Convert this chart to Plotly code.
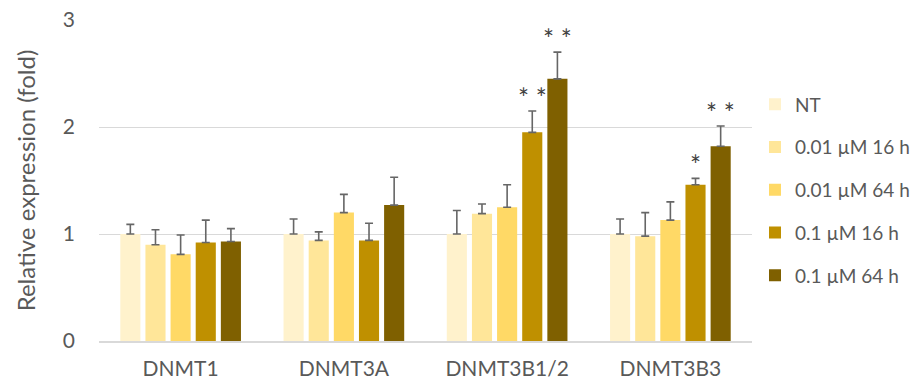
import plotly.graph_objects as go

# Genes on the x axis and treatment groups
genes = ["DNMT1", "DNMT3A", "DNMT3B1/2", "DNMT3B3"]
groups = ["NT", "0.01 µM 16 h", "0.01 µM 64 h", "0.1 µM 16 h", "0.1 µM 64 h"]
colors = ["#FFF2CC", "#FFE699", "#FFD966", "#BF9000", "#7F6000"]

# Mean relative expression (fold) per group, in gene order
nt = [1.00, 1.00, 1.00, 1.00]
low_16h = [0.90, 0.94, 1.19, 0.98]
low_64h = [0.81, 1.20, 1.25, 1.13]
high_16h = [0.92, 0.94, 1.95, 1.46]
high_64h = [0.93, 1.27, 2.45, 1.82]

# Upper error (SD) per group
nt_err = [0.09, 0.14, 0.22, 0.14]
low_16h_err = [0.14, 0.08, 0.09, 0.22]
low_64h_err = [0.18, 0.17, 0.21, 0.17]
high_16h_err = [0.21, 0.16, 0.20, 0.06]
high_64h_err = [0.12, 0.26, 0.25, 0.19]

# Significance marks: (gene, group index, label)
marks = [
    ("DNMT3B1/2", 3, "* *"),
    ("DNMT3B1/2", 4, "* *"),
    ("DNMT3B3", 3, "*"),
    ("DNMT3B3", 4, "* *"),
]

means = [nt, low_16h, low_64h, high_16h, high_64h]
errs = [nt_err, low_16h_err, low_64h_err, high_16h_err, high_64h_err]

FONT = "Lato, 'Open Sans', sans-serif"
TXT = "#595959"

W, H = 922, 380
ML, MR, MT, MB = 99, 170, 20, 39
BARGAP = 0.23
n = len(groups)

fig = go.Figure()
for i, g in enumerate(groups):
    fig.add_trace(go.Bar(
        x=genes, y=means[i], name=g,
        marker=dict(color=colors[i], line=dict(width=0)),
        error_y=dict(type="data", symmetric=False, array=errs[i],
                     arrayminus=[0] * len(genes), color="#666666",
                     thickness=1.6, width=4),
        legendgroup=g,
    ))

# Pixel width of one bar slot within a gene group
plot_w = W - ML - MR
slot = plot_w / len(genes) * (1 - BARGAP) / n

for gene, gi, label in marks:
    k = genes.index(gene)
    top = means[gi][k] + errs[gi][k]
    fig.add_annotation(
        x=gene, y=top, xref="x", yref="y",
        xshift=(gi - (n - 1) / 2) * slot, yshift=-5,
        text=label, showarrow=False, yanchor="bottom",
        font=dict(family=FONT, size=26, color="#404040"),
    )

fig.update_layout(
    width=W, height=H,
    margin=dict(l=ML, r=MR, t=MT, b=MB, autoexpand=False),
    paper_bgcolor="white", plot_bgcolor="white",
    barmode="group", bargap=BARGAP, bargroupgap=0.2,
    font=dict(family=FONT, color=TXT, size=21),
    showlegend=True,
    legend=dict(x=755 / W, xanchor="left", y=1 - 190 / H, yanchor="middle",
                xref="container", yref="container", maxheight=360,
                font=dict(size=19, color=TXT, family=FONT),
                traceorder="grouped", tracegroupgap=15,
                itemwidth=30, bgcolor="rgba(0,0,0,0)"),
    yaxis=dict(range=[0, 3], dtick=1, tick0=0, showgrid=True,
               gridcolor="#d9d9d9", gridwidth=1.3, zeroline=False,
               showline=False, ticks="", ticklabelstandoff=23,
               automargin=False,
               tickfont=dict(size=21, color=TXT),
               title=dict(text="Relative expression (fold)",
                          font=dict(size=24, color=TXT), standoff=20)),
    xaxis=dict(showline=True, linecolor="#d9d9d9", linewidth=1.5,
               ticks="", tickfont=dict(size=21, color=TXT),
               ticklabelstandoff=8, automargin=False),
)

fig.write_html("out.html")
